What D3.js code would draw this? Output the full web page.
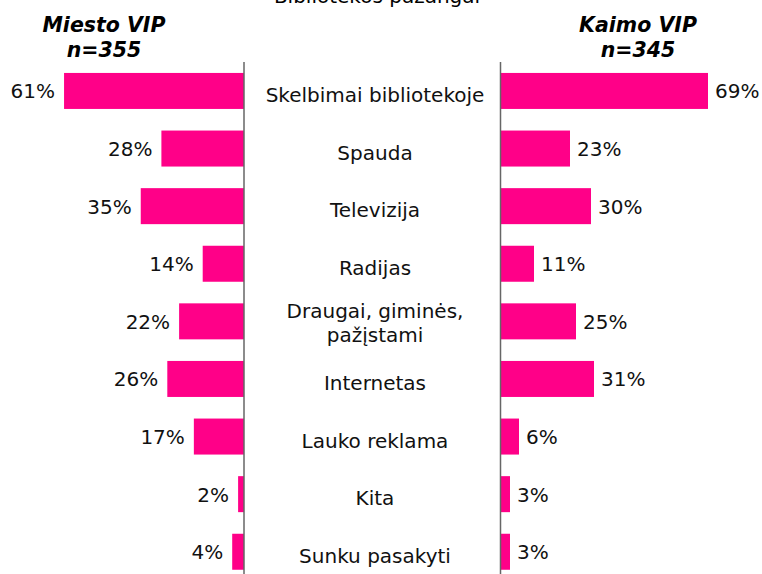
<!DOCTYPE html>
<html>
<head>
<meta charset="utf-8">
<script src="https://cdn.jsdelivr.net/npm/d3@7/dist/d3.min.js"></script>
<style>
  html, body { margin: 0; padding: 0; background: #fff; }
  svg { display: block; font-family: "DejaVu Sans", Verdana, sans-serif; }
</style>
</head>
<body>
<svg id="chart" width="762" height="574"></svg>
<script>
// Information sources about the library's progress, city vs. rural users
const categories = [
  ["Skelbimai bibliotekoje"],
  ["Spauda"],
  ["Televizija"],
  ["Radijas"],
  ["Draugai, giminės,", "pažįstami"],
  ["Internetas"],
  ["Lauko reklama"],
  ["Kita"],
  ["Sunku pasakyti"]
];
const cityValues  = [61, 28, 35, 14, 22, 26, 17, 2, 4];
const ruralValues = [69, 23, 30, 11, 25, 31, 6, 3, 3];
const chartTitle = "Bibliotekos pažangai";
const cityTitle = ["Miesto VIP", "n=355"];
const ruralTitle = ["Kaimo VIP", "n=345"];

const svg = d3.select("#chart");
const barColor = "#ff0088";
const fontSize = 20;

const y = d3.scaleBand()
  .domain(d3.range(categories.length))
  .range([62, 580.7])
  .paddingInner(0.375)
  .paddingOuter(0.19);

const leftAxisX = 244, rightAxisX = 501;
const xL = d3.scaleLinear().domain([0, 100]).range([leftAxisX, leftAxisX - 295]);
const xR = d3.scaleLinear().domain([0, 100]).range([rightAxisX, rightAxisX + 300]);

// Chart title (runs past the top edge)
svg.append("text")
  .attr("x", 377).attr("y", 3)
  .attr("text-anchor", "middle")
  .attr("font-size", fontSize)
  .attr("fill", "#000")
  .text(chartTitle);

// Group headers
function header(cx, lines) {
  const g = svg.append("g")
    .attr("font-size", 20.5)
    .attr("font-weight", "bold")
    .attr("font-style", "italic")
    .attr("text-anchor", "middle")
    .attr("fill", "#000");
  g.append("text").attr("x", cx).attr("y", 32).text(lines[0]);
  g.append("text").attr("x", cx).attr("y", 57).text(lines[1]);
}
header(104, cityTitle);
header(638, ruralTitle);

// City bars (grow leftwards)
svg.append("g").selectAll("rect")
  .data(cityValues)
  .join("rect")
  .attr("x", d => xL(d))
  .attr("y", (d, i) => y(i))
  .attr("width", d => xL(0) - xL(d))
  .attr("height", y.bandwidth())
  .attr("fill", barColor);

// Rural bars (grow rightwards)
svg.append("g").selectAll("rect")
  .data(ruralValues)
  .join("rect")
  .attr("x", xR(0))
  .attr("y", (d, i) => y(i))
  .attr("width", d => xR(d) - xR(0))
  .attr("height", y.bandwidth())
  .attr("fill", barColor);

// Value labels
const mid = i => y(i) + y.bandwidth() / 2;
svg.append("g")
  .attr("font-size", fontSize)
  .attr("fill", "#111")
  .attr("text-anchor", "end")
  .selectAll("text")
  .data(cityValues)
  .join("text")
  .attr("x", d => xL(d) - 9)
  .attr("y", (d, i) => mid(i) + 7.5)
  .text(d => d + "%");

svg.append("g")
  .attr("font-size", fontSize)
  .attr("fill", "#111")
  .attr("text-anchor", "start")
  .selectAll("text")
  .data(ruralValues)
  .join("text")
  .attr("x", d => xR(d) + 7)
  .attr("y", (d, i) => mid(i) + 7.5)
  .text(d => d + "%");

// Category labels in the middle column
const catG = svg.append("g")
  .attr("font-size", fontSize)
  .attr("fill", "#111")
  .attr("text-anchor", "middle");
categories.forEach((lines, i) => {
  const t = catG.append("text").attr("x", 375);
  const lh = 24;
  const base = mid(i) + 11 - (lines.length - 1) * (lh / 2) - (lines.length - 1) * 2;
  lines.forEach((ln, j) => {
    t.append("tspan").attr("x", 375).attr("y", base + j * lh).text(ln);
  });
});

// Vertical axis lines
[leftAxisX, rightAxisX - 0.5].forEach(x => {
  svg.append("line")
    .attr("x1", x).attr("x2", x)
    .attr("y1", 62).attr("y2", 574)
    .attr("stroke", "#666")
    .attr("stroke-width", 1.5);
});
</script>
</body>
</html>
